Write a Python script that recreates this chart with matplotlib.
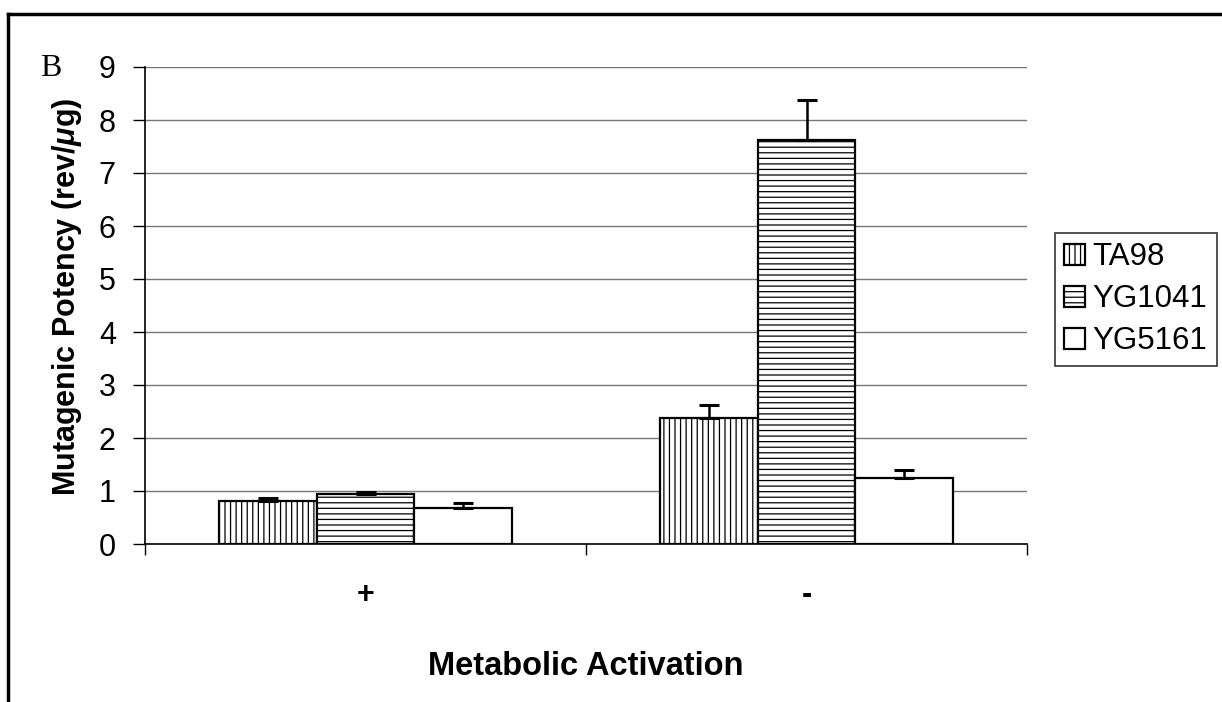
import numpy as np
import matplotlib
matplotlib.use('Agg')
import matplotlib.pyplot as plt
from matplotlib.lines import Line2D

# mutagenic potency per strain, with and without S9 activation
groups = ['+', '-']
strains = ['TA98', 'YG1041', 'YG5161']
ta98 = [0.82, 2.37]
ta98_err = [0.05, 0.26]
yg1041 = [0.95, 7.62]
yg1041_err = [0.03, 0.76]
yg5161 = [0.67, 1.24]
yg5161_err = [0.11, 0.15]

plt.rcParams['font.family'] = ['Liberation Sans', 'DejaVu Sans']
plt.rcParams['mathtext.fontset'] = 'custom'
plt.rcParams['mathtext.it'] = 'Liberation Sans:bold:italic'
plt.rcParams['mathtext.rm'] = 'Liberation Sans:bold'
plt.rcParams['hatch.color'] = '#555555'
plt.rcParams['hatch.linewidth'] = 0.9

fig = plt.figure(figsize=(12.22, 7.02), dpi=100)
ax = fig.add_axes([145/1222, 1-544/702, (1027-145)/1222, (544-67)/702])

x = np.arange(len(groups))
w = 0.222
series = [(ta98, ta98_err, '|||'), (yg1041, yg1041_err, '---'), (yg5161, yg5161_err, '')]
for i, (vals, errs, hatch) in enumerate(series):
    pos = x + (i - 1) * w
    ax.bar(pos, vals, w, color='white', edgecolor='black', linewidth=1.6,
           hatch=hatch, label=strains[i], zorder=3)
    ax.errorbar(pos, vals, yerr=[np.zeros(len(errs)), errs], fmt='none',
                ecolor='black', elinewidth=1.8, capsize=7, capthick=2.2, zorder=4)

ax.set_xlim(-0.5, 1.5)
ax.set_ylim(0, 9)
ax.set_yticks(range(0, 10))
ax.yaxis.grid(True, color='#777777', linewidth=1.0, zorder=0)
ax.set_axisbelow(True)
ax.set_xticks(x)
ax.set_xticklabels(groups, fontsize=22, fontweight='bold')
ax.set_xticks([-0.5, 0.5, 1.5], minor=True)
ax.tick_params(axis='x', which='major', length=0, pad=26)
ax.tick_params(axis='x', which='minor', length=8, width=1)
ax.tick_params(axis='y', length=9, width=1, labelsize=22, pad=12)

for s in ['top', 'right']:
    ax.spines[s].set_visible(False)
for s in ['left', 'bottom']:
    ax.spines[s].set_linewidth(1.2)

ax.set_ylabel(r'Mutagenic Potency (rev/$\mu$g)', fontsize=22, fontweight='bold',
              va='center', ha='center')
ax.yaxis.set_label_coords(-0.088, 0.518)
ax.set_xlabel('Metabolic Activation', fontsize=23.5, fontweight='bold', va='center')
ax.xaxis.set_label_coords(0.5, -0.256)

fig.text(51/1222, 1-68/702, 'B', family='Liberation Serif', fontsize=23,
         ha='center', va='center')

leg = fig.legend(loc='upper left', bbox_to_anchor=(1055/1222, 1-233/702),
                 fontsize=22.5, frameon=True, fancybox=False, edgecolor='black',
                 handlelength=0.65, handleheight=0.65, handletextpad=0.25,
                 labelspacing=0.38, borderpad=0.3, borderaxespad=0)
leg.get_frame().set_linewidth(1.2)

# page frame
fig.add_artist(Line2D([8/1222, 1.0], [1-14/702, 1-14/702], color='black', linewidth=2.5))
fig.add_artist(Line2D([8/1222, 8/1222], [0.0, 1-14/702], color='black', linewidth=2.5))

fig.savefig('out.png', dpi=100)
